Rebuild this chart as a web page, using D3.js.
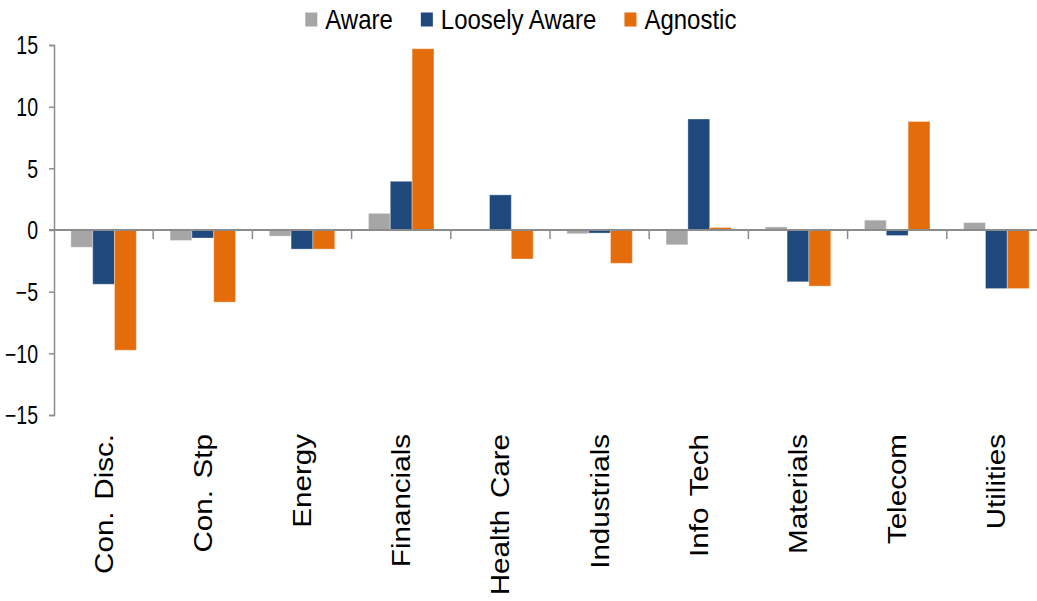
<!DOCTYPE html>
<html>
<head>
<meta charset="utf-8">
<script src="https://cdn.jsdelivr.net/npm/d3@7"></script>
<style>
  body { margin: 0; background: #fff; }
  text { font-family: "Liberation Sans", Arial, sans-serif; fill: #000; }
</style>
</head>
<body>
<svg id="chart" width="1037" height="601"></svg>
<script>
// sectors on the x axis
var sectors = ['Con. Disc.', 'Con. Stp', 'Energy', 'Financials', 'Health Care',
               'Industrials', 'Info Tech', 'Materials', 'Telecom', 'Utilities'];

// one value per sector
var aware        = [-1.4, -0.85, -0.5, 1.35, 0.05, -0.3, -1.2, 0.25, 0.8, 0.6];
var looselyAware = [-4.4, -0.65, -1.55, 3.95, 2.85, -0.25, 9.0, -4.2, -0.45, -4.75];
var agnostic     = [-9.75, -5.85, -1.55, 14.7, -2.35, -2.7, 0.2, -4.55, 8.8, -4.75];

var seriesNames = ['Aware', 'Loosely Aware', 'Agnostic'];
var yTicks = [-15, -10, -5, 0, 5, 10, 15];

var colors = { 'Aware': '#a6a6a6', 'Loosely Aware': '#1f497d', 'Agnostic': '#e46c0a' };

var svgWidth = 1037;
var svgHeight = 601;
var margin = { top: 45, left: 54, right: -9, bottom: 186 };

var svg = d3.select('#chart');
svg.append('rect').attr('width', svgWidth).attr('height', svgHeight).attr('fill', '#fff');

// build rows for the grouped bars
var rows = sectors.map((s, i) => ({
    sector: s,
    'Aware': aware[i],
    'Loosely Aware': looselyAware[i],
    'Agnostic': agnostic[i]
}));

var x0 = d3.scaleBand()
    .domain(sectors)
    .range([margin.left, svgWidth - margin.right])
    .paddingInner(0.34)
    .paddingOuter(0.17);

var x1 = d3.scaleBand()
    .domain(seriesNames)
    .range([0, x0.bandwidth()]);

var y = d3.scaleLinear()
    .domain([-15, 15])
    .range([svgHeight - margin.bottom, margin.top]);

var plot = svg.append('g');

// bars
plot.selectAll('.group')
    .data(rows)
    .join('g')
    .classed('group', true)
    .attr('transform', d => `translate(${x0(d.sector)},0)`)
    .selectAll('rect')
    .data(d => seriesNames.map(k => ({ key: k, value: d[k] })))
    .join('rect')
    .attr('x', d => x1(d.key))
    .attr('width', x1.bandwidth())
    .attr('y', d => y(Math.max(0, d.value)))
    .attr('height', d => Math.abs(y(d.value) - y(0)))
    .attr('fill', d => colors[d.key])
    .attr('stroke', '#fff')
    .attr('stroke-opacity', 0.35)
    .attr('stroke-width', 1);

// y axis
var yAxis = d3.axisLeft(y)
    .tickValues(yTicks)
    .tickSize(5)
    .tickPadding(11);

var yG = svg.append('g')
    .attr('transform', `translate(${margin.left},0)`)
    .call(yAxis);
yG.select('.domain').attr('stroke', '#8c8c8c').attr('stroke-width', 1.5);
yG.selectAll('.tick line').attr('stroke', '#8c8c8c').attr('stroke-width', 1.5);
yG.selectAll('.tick text')
    .attr('font-size', 19.5)
    .attr('font-family', '"Liberation Sans", Arial, sans-serif')
    .attr('fill', '#000')
    .attr('dy', null)
    .attr('y', 0)
    // stretch vertically like the source image
    .attr('transform', 'translate(0,8.8) scale(1,1.28)');

// zero line with category tick marks below it
svg.append('line')
    .attr('x1', margin.left - 5)
    .attr('x2', svgWidth)
    .attr('y1', y(0))
    .attr('y2', y(0))
    .attr('stroke', '#8c8c8c')
    .attr('stroke-width', 2);

var step = x0.step();
var boundaries = sectors.map(s => x0(s) - x0.paddingOuter() * step + step).filter(v => v < svgWidth);
svg.selectAll('.cat-tick')
    .data(boundaries)
    .join('line')
    .classed('cat-tick', true)
    .attr('x1', d => d)
    .attr('x2', d => d)
    .attr('y1', y(0))
    .attr('y2', y(0) + 9)
    .attr('stroke', '#8c8c8c')
    .attr('stroke-width', 1.5);

// category labels, rotated
svg.selectAll('.cat-label')
    .data(sectors)
    .join('text')
    .classed('cat-label', true)
    .attr('text-anchor', 'end')
    .attr('font-size', 25.5)
    .attr('word-spacing', 3)
    .attr('transform', d => `translate(${x0(d) + x0.bandwidth() / 2 + 9},434) rotate(-90) scale(1.16,1)`)
    .text(d => d);

// legend
var legend = svg.append('g');
var items = legend.selectAll('.legend-item')
    .data(seriesNames)
    .join('g')
    .classed('legend-item', true);

items.append('rect')
    .attr('width', 12)
    .attr('height', 14)
    .attr('y', 12.5)
    .attr('fill', d => colors[d]);

items.append('text')
    .attr('x', 20)
    .attr('font-size', 24)
    .attr('transform', 'translate(0,29.3) scale(1,1.12)')
    .text(d => d);

var widths = [];
items.each(function() { widths.push(this.getBBox().width); });
var gap = 28;
var total = d3.sum(widths) + gap * (widths.length - 1);
var lx = 521 - total / 2;
items.attr('transform', (d, i) => {
    var pos = lx;
    lx += widths[i] + gap;
    return `translate(${pos},0)`;
});
</script>
</body>
</html>
